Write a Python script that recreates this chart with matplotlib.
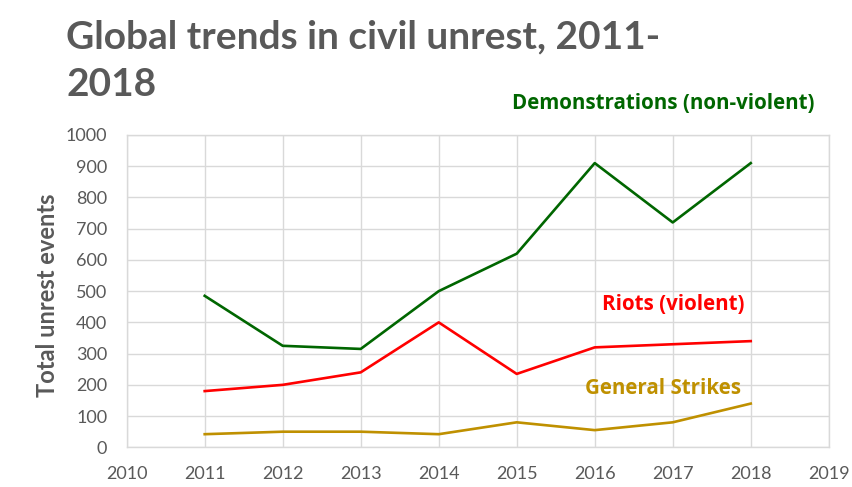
import matplotlib
matplotlib.use("Agg")
import matplotlib.pyplot as plt

years = [2011, 2012, 2013, 2014, 2015, 2016, 2017, 2018]
demonstrations = [485, 325, 315, 500, 620, 910, 720, 910]
riots = [180, 200, 240, 400, 235, 320, 330, 340]
strikes = [42, 50, 50, 42, 80, 55, 80, 140]
x_ticks = list(range(2010, 2020))
y_ticks = list(range(0, 1001, 100))

GREEN = "#006600"
RED = "#ff0000"
GOLD = "#bf9000"
GRAY = "#595959"
GRID = "#d9d9d9"

plt.rcParams['font.family'] = ['Lato', 'DejaVu Sans']

fig = plt.figure(figsize=(8.52, 4.87), dpi=100)
ax = fig.add_axes([0.1487, 0.0815, 0.824, 0.6413])

ax.plot(years, demonstrations, color=GREEN, lw=1.9)
ax.plot(years, riots, color=RED, lw=1.9)
ax.plot(years, strikes, color=GOLD, lw=1.9)

ax.set_xlim(2010, 2019)
ax.set_ylim(0, 1000)
ax.set_xticks(x_ticks)
ax.set_yticks(y_ticks)
ax.set_xticklabels([str(t) for t in x_ticks])
ax.grid(True, color=GRID, lw=1)
ax.set_axisbelow(True)
for s in ax.spines.values():
    s.set_color(GRID)
    s.set_linewidth(1)
ax.tick_params(length=0, labelsize=13, colors=GRAY)
ax.tick_params(axis='y', pad=14)
ax.tick_params(axis='x', pad=13.5)

ax.set_ylabel("Total unrest events", fontsize=17, fontweight='bold', color=GRAY)
ax.yaxis.set_label_coords(-0.097, 0.486)

fig.text(66/852, 1 - 48/487, "Global trends in civil unrest, 2011-", fontsize=28,
         fontweight='bold', color=GRAY, ha='left', va='baseline')
fig.text(66/852, 1 - 96/487, "2018", fontsize=28,
         fontweight='bold', color=GRAY, ha='left', va='baseline')

lab_font = ['Open Sans', 'DejaVu Sans']
fig.text(815/852, 1 - 109/487, "Demonstrations (non-violent)", fontsize=14.8,
         fontweight='bold', color=GREEN, ha='right', va='baseline', family=lab_font)
fig.text(745/852, 1 - 310.5/487, "Riots (violent)", fontsize=14.8,
         fontweight='bold', color=RED, ha='right', va='baseline', family=lab_font)
fig.text(741/852, 1 - 394/487, "General Strikes", fontsize=14.8,
         fontweight='bold', color=GOLD, ha='right', va='baseline', family=lab_font)

fig.savefig("out.png", dpi=100)
